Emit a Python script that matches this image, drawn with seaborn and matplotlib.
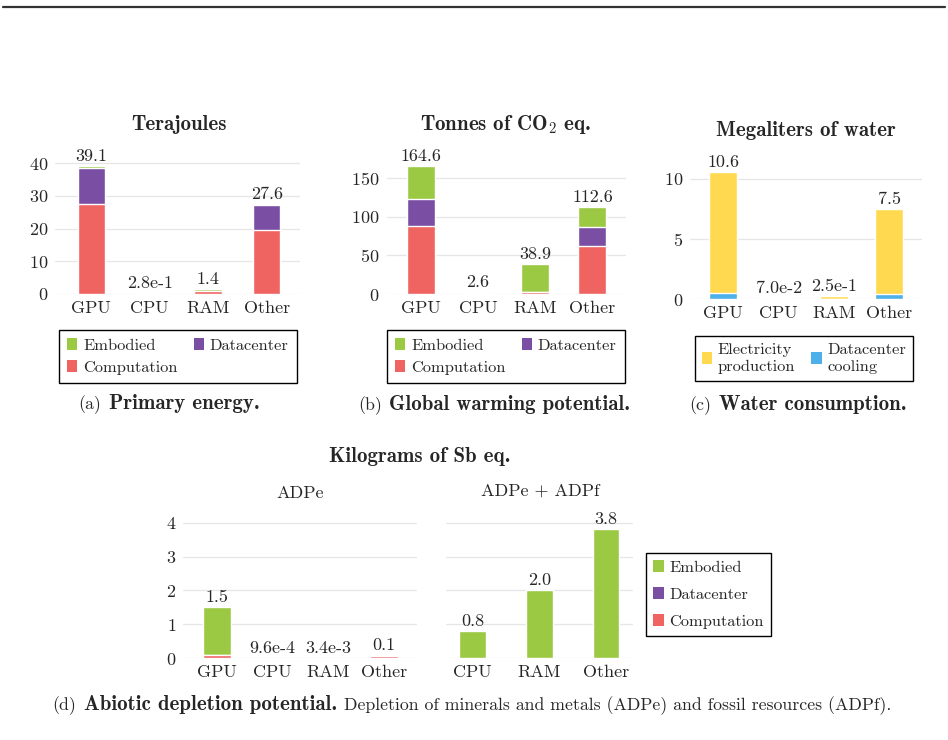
import matplotlib
matplotlib.use("Agg")
import matplotlib.pyplot as plt
import seaborn as sns
import numpy as np
from matplotlib.patches import Patch
from matplotlib.lines import Line2D

# ---------------- data ----------------
categories = ["GPU", "CPU", "RAM", "Other"]

energy_computation = [27.6, 0.15, 0.9, 19.6]
energy_datacenter = [10.8, 0.05, 0.1, 7.6]
energy_embodied = [0.7, 0.08, 0.4, 0.4]
energy_labels = ["39.1", "2.8e-1", "1.4", "27.6"]

co2_computation = [88.0, 0.8, 2.5, 62.0]
co2_datacenter = [34.5, 0.3, 0.5, 25.0]
co2_embodied = [42.1, 1.5, 35.9, 25.6]
co2_labels = ["164.6", "2.6", "38.9", "112.6"]

water_cooling = [0.55, 0.01, 0.01, 0.42]
water_electricity = [10.05, 0.06, 0.24, 7.08]
water_labels = ["10.6", "7.0e-2", "2.5e-1", "7.5"]

adpe_computation = [0.1, 0.0002, 0.0008, 0.08]
adpe_datacenter = [0.01, 0.0001, 0.0004, 0.005]
adpe_embodied = [1.39, 0.00066, 0.0022, 0.015]
adpe_labels = ["1.5", "9.6e-4", "3.4e-3", "0.1"]

adpf_categories = ["CPU", "RAM", "Other"]
adpf_embodied = [0.8, 2.0, 3.8]
adpf_labels = ["0.8", "2.0", "3.8"]

# ---------------- style ----------------
sns.set_style("white")
plt.rcParams.update({
    "font.family": ["cmr10", "DejaVu Serif"],
    "mathtext.fontset": "cm",
    "axes.formatter.use_mathtext": True,
    "font.size": 12,
})

RED = "#ef6461"
PURPLE = "#7a4fa3"
GREEN = "#9cc944"
YELLOW = "#ffd94f"
BLUE = "#4db0e8"

NUM_FS = 13
BOLD_FS = 15
CAP_FS = 12.8

W, H = 948, 740
fig = plt.figure(figsize=(W / 100, H / 100), dpi=100)


def add_ax(x0, x1, ytop, ybot):
    return fig.add_axes([x0 / W, 1 - ybot / H, (x1 - x0) / W, (ybot - ytop) / H])


def stacked(ax, cats, layers, colors, width, labels):
    cum = np.cumsum(np.array(layers, dtype=float), axis=0)
    for k in range(len(layers) - 1, -1, -1):
        sns.barplot(x=cats, y=cum[k], order=cats, color=colors[k], width=width,
                    saturation=1, edgecolor="white", linewidth=1.0,
                    errorbar=None, ax=ax)
    ax.bar_label(ax.containers[0], labels=labels, padding=1.5, fontsize=NUM_FS)


def style(ax, ylim, xlim, yticks, ylabels=True):
    ax.set_ylim(*ylim)
    ax.set_xlim(*xlim)
    ax.set_yticks(yticks)
    ax.set_xlabel("")
    ax.set_ylabel("")
    ax.yaxis.grid(True, color="#e6e6e6", lw=0.9)
    ax.set_axisbelow(True)
    for s in ax.spines.values():
        s.set_visible(False)
    ax.tick_params(length=0, labelsize=NUM_FS)
    ax.tick_params(axis="y", pad=5)
    ax.tick_params(axis="x", pad=4.5)
    if not ylabels:
        ax.tick_params(labelleft=False)


# panel a
ax_a = add_ax(55, 300, 153.4, 294)
stacked(ax_a, categories, [energy_computation, energy_datacenter, energy_embodied],
        [RED, PURPLE, GREEN], 0.47, energy_labels)
style(ax_a, (0, 43), (-0.62, 3.57), [0, 10, 20, 30, 40])

# panel b
ax_b = add_ax(386.7, 626, 154.4, 294.3)
stacked(ax_b, categories, [co2_computation, co2_datacenter, co2_embodied],
        [RED, PURPLE, GREEN], 0.49, co2_labels)
style(ax_b, (0, 180), (-0.596, 3.587), [0, 50, 100, 150])

# panel c
ax_c = add_ax(690, 921.7, 158.5, 299.3)
stacked(ax_c, categories, [water_cooling, water_electricity],
        [BLUE, YELLOW], 0.5, water_labels)
style(ax_c, (0, 11.7), (-0.602, 3.588), [0, 5, 10])

# panel d left
ax_d1 = add_ax(183.3, 416.7, 512.5, 658.3)
stacked(ax_d1, categories, [adpe_computation, adpe_datacenter, adpe_embodied],
        [RED, PURPLE, GREEN], 0.49, adpe_labels)
style(ax_d1, (0, 4.3), (-0.606, 3.59), [0, 1, 2, 3, 4])

# panel d right
ax_d2 = add_ax(446, 632.7, 512.5, 658.3)
stacked(ax_d2, adpf_categories, [adpf_embodied], [GREEN], 0.40, adpf_labels)
style(ax_d2, (0, 4.3), (-0.40, 2.40), [0, 1, 2, 3, 4], ylabels=False)

# ---------------- titles ----------------
def ftext(x, y, s, **kw):
    return fig.text(x / W, 1 - y / H, s, ha="center", va="center", **kw)

ftext(179, 125, "Terajoules", family="cmb10", fontsize=BOLD_FS)
ftext(506, 125, r"Tonnes of CO$_\mathbf{2}$ eq.", family="cmb10", fontsize=BOLD_FS)
ftext(806, 130, "Megaliters of water", family="cmb10", fontsize=BOLD_FS)
ftext(420, 456, "Kilograms of Sb eq.", family="cmb10", fontsize=BOLD_FS)
ftext(300, 493, "ADPe", fontsize=NUM_FS)
ftext(540, 491, "ADPe + ADPf", fontsize=NUM_FS)

renderer = fig.canvas.get_renderer()


def rich(xc, y, parts, gap=7.0):
    """parts: list of (text, bold) drawn side by side, centred on xc (pixels)."""
    texts = []
    for s, bold in parts:
        t = fig.text(0, 1 - y / H, s, ha="left", va="baseline",
                     family="cmb10" if bold else "cmr10",
                     fontsize=BOLD_FS if bold else CAP_FS)
        texts.append(t)
    widths = [t.get_window_extent(renderer).width for t in texts]
    total = sum(widths) + gap * (len(texts) - 1)
    x = xc - total / 2
    for t, w in zip(texts, widths):
        t.set_x(x / W)
        x += w + gap


rich(169, 409, [("(a)", False), ("Primary energy.", True)])
rich(494, 410, [("(b)", False), ("Global warming potential.", True)])
rich(798, 410, [("(c)", False), ("Water consumption.", True)])
rich(472, 710, [("(d)", False), ("Abiotic depletion potential.", True),
                ("Depletion of minerals and metals (ADPe) and fossil resources (ADPf).", False)])

# ---------------- legends ----------------
leg_kw = dict(loc="upper left", fancybox=False, edgecolor="black", framealpha=1,
              borderaxespad=0, handlelength=0.62, handleheight=0.75,
              handletextpad=0.35, fontsize=11.8)


def patch(c):
    return Patch(facecolor=c, edgecolor="none")


for x0, y0 in [(59, 330), (387, 330)]:
    lg = fig.legend([patch(GREEN), patch(RED), patch(PURPLE)],
                    ["Embodied", "Computation", "Datacenter"],
                    bbox_to_anchor=(x0 / W, 1 - y0 / H), ncol=2,
                    columnspacing=1.0, borderpad=0.5, labelspacing=0.42, **leg_kw)
    lg.get_frame().set_linewidth(1.0)

lg = fig.legend([patch(YELLOW), patch(BLUE)],
                ["Electricity\nproduction", "Datacenter\ncooling"],
                bbox_to_anchor=(695 / W, 1 - 336 / H), ncol=2,
                columnspacing=1.0, borderpad=0.4, labelspacing=0.3, **leg_kw)
lg.get_frame().set_linewidth(1.0)
for t in lg.get_texts():
    t.set_linespacing(1.3)

lg = fig.legend([patch(GREEN), patch(PURPLE), patch(RED)],
                ["Embodied", "Datacenter", "Computation"],
                bbox_to_anchor=(646 / W, 1 - 552.7 / H), ncol=1,
                borderpad=0.45, labelspacing=0.75, **leg_kw)
lg.get_frame().set_linewidth(1.0)

# top rule
fig.add_artist(Line2D([3 / W, 945 / W], [1 - 7 / H, 1 - 7 / H], color="#333333", lw=1.6))

fig.savefig("out.png", dpi=100)
